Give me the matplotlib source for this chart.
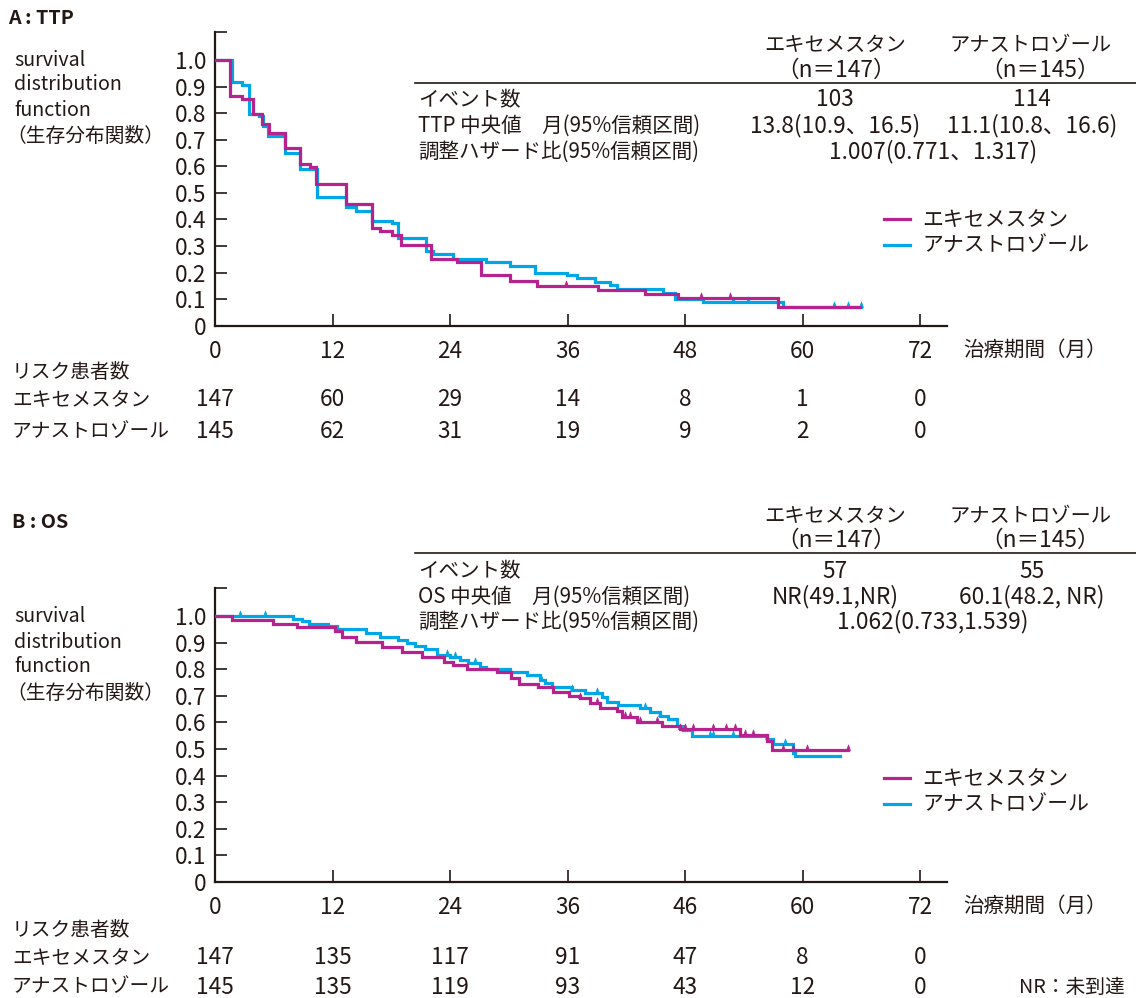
import matplotlib
matplotlib.use('Agg')
import matplotlib.pyplot as plt
from matplotlib.path import Path
from matplotlib.lines import Line2D
import matplotlib.transforms as mtransforms
import numpy as np

plt.rcParams['font.family'] = ['Noto Sans CJK JP', 'DejaVu Sans']

# ---------------- data ----------------
# Panel A : TTP  (months, survival)
ttp_exe_t = [0, 1.53, 2.73, 3.91, 4.77, 5.55, 7.15, 8.68, 9.70, 10.32, 13.35, 16.07, 16.80, 18.08, 19.03,
             22.06, 24.69, 27.19, 30.13, 32.92, 39.07, 43.92, 47.32, 57.46, 65.88]
ttp_exe_s = [1.0, 0.865, 0.855, 0.795, 0.758, 0.727, 0.667, 0.608, 0.598, 0.533, 0.457, 0.366, 0.357, 0.341, 0.303,
             0.252, 0.239, 0.189, 0.168, 0.149, 0.134, 0.119, 0.105, 0.070, 0.070]
ttp_exe_cens = [35.83, 49.61, 52.60]

ttp_ana_t = [0, 1.71, 2.73, 3.50, 4.52, 4.93, 5.44, 7.15, 8.68, 10.45, 13.35, 14.43, 16.01, 18.05, 18.69,
             21.58, 22.22, 24.34, 27.68, 30.13, 32.64, 35.90, 36.93, 38.82, 40.35, 41.03, 45.79, 46.99, 49.88,
             58.05, 65.99]
ttp_ana_s = [1.0, 0.917, 0.905, 0.798, 0.790, 0.751, 0.713, 0.650, 0.589, 0.483, 0.448, 0.432, 0.395, 0.385, 0.331,
             0.283, 0.270, 0.251, 0.238, 0.224, 0.200, 0.190, 0.178, 0.164, 0.152, 0.139, 0.124, 0.102, 0.089,
             0.070, 0.070]
ttp_ana_cens = [52.94, 54.47, 63.26, 64.69, 65.99]

# Panel B : OS
os_exe_t = [0, 1.71, 5.96, 8.35, 12.26, 12.94, 14.37, 17.03, 19.07, 21.09, 23.39, 24.31, 25.71, 28.77, 30.18,
            31.03, 32.94, 34.56, 36.16, 37.28, 38.30, 39.33, 41.03, 41.54, 43.07, 45.63, 47.50, 53.63, 56.35,
            56.86, 64.69]
os_exe_s = [1.0, 0.985, 0.970, 0.958, 0.943, 0.922, 0.903, 0.885, 0.866, 0.845, 0.828, 0.814, 0.800, 0.788, 0.767,
            0.745, 0.732, 0.714, 0.699, 0.690, 0.672, 0.655, 0.642, 0.622, 0.602, 0.588, 0.576, 0.552, 0.530,
            0.497, 0.497]
os_exe_cens = [37.28, 38.99, 41.88, 42.39, 43.41, 45.12, 47.50, 48.01, 48.86, 50.90, 52.17, 53.12, 54.14,
               54.99, 57.99, 59.07, 60.44, 64.69]

os_ana_t = [0, 7.94, 8.89, 9.63, 11.57, 12.43, 15.42, 16.85, 18.72, 19.58, 20.43, 21.45, 22.68, 24.00, 25.03,
            25.87, 27.07, 27.68, 30.13, 31.84, 33.20, 33.71, 34.39, 36.44, 37.79, 39.50, 40.01, 41.20, 43.41,
            44.43, 45.45, 46.30, 47.16, 47.84, 48.69, 56.35, 57.03, 59.07, 59.24, 63.84]
os_ana_s = [1.0, 0.990, 0.981, 0.971, 0.964, 0.950, 0.937, 0.922, 0.910, 0.898, 0.887, 0.876, 0.855, 0.845, 0.834,
            0.822, 0.810, 0.800, 0.790, 0.778, 0.758, 0.748, 0.733, 0.723, 0.709, 0.697, 0.676, 0.667, 0.655,
            0.640, 0.624, 0.612, 0.588, 0.570, 0.549, 0.539, 0.518, 0.485, 0.473, 0.473]
os_ana_cens = [2.55, 5.11, 23.67, 24.51, 26.56, 33.30, 36.44, 39.05, 43.92, 45.45, 50.56, 50.90, 52.94,
               56.35, 58.22]

# ticks and risk tables
x_ticks = [0, 12, 24, 36, 48, 60, 72]
ttp_xtick_labels = ['0', '12', '24', '36', '48', '60', '72']
os_xtick_labels = ['0', '12', '24', '36', '46', '60', '72']
y_ticks = [0, 0.1, 0.2, 0.3, 0.4, 0.5, 0.6, 0.7, 0.8, 0.9, 1.0]
y_tick_labels = ['0', '0.1', '0.2', '0.3', '0.4', '0.5', '0.6', '0.7', '0.8', '0.9', '1.0']

ttp_risk_exe = [147, 60, 29, 14, 8, 1, 0]
ttp_risk_ana = [145, 62, 31, 19, 9, 2, 0]
os_risk_exe = [147, 135, 117, 91, 47, 8, 0]
os_risk_ana = [145, 135, 119, 93, 43, 12, 0]

arm_names = ['エキセメスタン', 'アナストロゾール']
arm_n = ['（n＝147）', '（n＝145）']

ttp_table = [('イベント数', '103', '114'),
             ('TTP 中央値　月(95%信頼区間)', '13.8(10.9、16.5)', '11.1(10.8、16.6)')]
ttp_hr = ('調整ハザード比(95%信頼区間)', '1.007(0.771、1.317)')
os_table = [('イベント数', '57', '55'),
            ('OS 中央値　月(95%信頼区間)', 'NR(49.1,NR)', '60.1(48.2, NR)')]
os_hr = ('調整ハザード比(95%信頼区間)', '1.062(0.733,1.539)')

# ---------------- style ----------------
W, H = 1136, 998
C_EXE = '#B6228E'
C_ANA = '#00A7E6'
TXT = '#231815'
FS = 14.2      # Japanese text
FSN = 16.3     # numbers

fig = plt.figure(figsize=(W / 100, H / 100), dpi=100)


def fx(x):
    return x / W


def fy(y):
    return 1 - y / H


def T(x, y, s, ha='left', **kw):
    kw.setdefault('fontsize', FS)
    kw.setdefault('color', TXT)
    fig.text(fx(x), fy(y), s, ha=ha, va='center', **kw)


cens_path = Path([(-0.35, 0.0), (0.0, 1.0), (0.35, 0.0), (-0.35, 0.0)],
                 [Path.MOVETO, Path.LINETO, Path.LINETO, Path.CLOSEPOLY])

AX_L, AX_R = 215, 947
PX_PER_MONTH = (920 - 215) / 72.0


def make_axes(top_px, zero_px, one_px, xlabels):
    scale = zero_px - one_px
    ytop = (zero_px - top_px) / scale
    ax = fig.add_axes([fx(AX_L), fy(zero_px), (AX_R - AX_L) / W, (zero_px - top_px) / H])
    ax.set_xlim(0, (AX_R - AX_L) / PX_PER_MONTH)
    ax.set_ylim(0, ytop)
    for sp in ['top', 'right']:
        ax.spines[sp].set_visible(False)
    for sp in ['left', 'bottom']:
        ax.spines[sp].set_linewidth(1.6)
        ax.spines[sp].set_color(TXT)
    ax.set_xticks(x_ticks)
    ax.set_xticklabels(xlabels)
    ax.set_yticks(y_ticks + [ytop])
    ax.set_yticklabels(y_tick_labels + [''])
    ax.tick_params(axis='both', direction='in', length=8.5, width=1.2, color=TXT,
                   labelsize=FSN, labelcolor=TXT)
    ax.tick_params(axis='x', pad=10)
    ax.tick_params(axis='y', pad=6)
    ax.patch.set_alpha(0)
    return ax


def draw_km(ax, t, s, cens, color):
    ax.step(t, s, where='post', color=color, lw=2.3, solid_joinstyle='miter', zorder=3)
    t_arr = np.asarray(t)
    s_arr = np.asarray(s)
    idx = np.searchsorted(t_arr, cens, side='right') - 1
    ax.plot(cens, s_arr[idx], linestyle='none', marker=cens_path, markersize=8,
            color=color, markeredgewidth=0.5, zorder=3)


def panel(ax, exe_t, exe_s, exe_c, ana_t, ana_s, ana_c, leg_top):
    draw_km(ax, ana_t, ana_s, ana_c, C_ANA)
    draw_km(ax, exe_t, exe_s, exe_c, C_EXE)
    handles = [Line2D([], [], color=C_EXE, lw=2.3), Line2D([], [], color=C_ANA, lw=2.3)]
    ax.legend(handles, arm_names, loc='upper left', bbox_to_anchor=(fx(884), fy(leg_top)),
              bbox_transform=fig.transFigure, frameon=False, fontsize=FS + 0.8,
              handlelength=1.25, handletextpad=0.6, labelspacing=0.2,
              borderpad=0, borderaxespad=0, labelcolor=TXT)


def risk_rows(ax, y_head, y1, y2, r1, r2):
    trans = mtransforms.blended_transform_factory(ax.transData, fig.transFigure)
    T(12, y_head, 'リスク患者数')
    T(12, y1, arm_names[0])
    T(12, y2, arm_names[1])
    for m, a, b in zip(x_ticks, r1, r2):
        ax.text(m, fy(y1), str(a), transform=trans, ha='center', va='center', fontsize=FSN, color=TXT)
        ax.text(m, fy(y2), str(b), transform=trans, ha='center', va='center', fontsize=FSN, color=TXT)


def header_table(y_h1, y_h2, y_line, y_rows, rows, hr):
    T(835, y_h1, arm_names[0], ha='center', fontsize=FS + 0.4)
    T(1030, y_h1, arm_names[1], ha='center', fontsize=FS + 0.4)
    T(836, y_h2, arm_n[0], ha='center', fontsize=FSN)
    T(1040, y_h2, arm_n[1], ha='center', fontsize=FSN)
    fig.add_artist(Line2D([fx(415), fx(1136)], [fy(y_line), fy(y_line)], transform=fig.transFigure,
                          color=TXT, lw=1.2))
    for (lab, v1, v2), yy in zip(rows, y_rows[:2]):
        T(418, yy, lab, fontsize=FS + 0.6)
        T(835, yy, v1, ha='center', fontsize=FSN)
        T(1032, yy, v2, ha='center', fontsize=FSN)
    T(418, y_rows[2], hr[0], fontsize=FS + 0.6)
    T(933, y_rows[2], hr[1], ha='center', fontsize=FSN)


def ylabel_block(y0):
    T(14, y0, 'survival')
    T(14, y0 + 25, 'distribution')
    T(14, y0 + 50, 'function')
    T(6, y0 + 76, '（生存分布関数）')


# ---------------- Panel A ----------------
axA = make_axes(32, 325.7, 60, ttp_xtick_labels)
panel(axA, ttp_exe_t, ttp_exe_s, ttp_exe_cens, ttp_ana_t, ttp_ana_s, ttp_ana_cens, 209)
T(8, 18, 'A : TTP', fontweight='bold')
ylabel_block(60)
header_table(45, 70, 83, [100, 126, 152], ttp_table, ttp_hr)
T(963, 350, '治療期間（月）', fontsize=FS + 0.6)
risk_rows(axA, 373, 400, 432, ttp_risk_exe, ttp_risk_ana)

# ---------------- Panel B ----------------
axB = make_axes(588, 882, 616, os_xtick_labels)
panel(axB, os_exe_t, os_exe_s, os_exe_cens, os_ana_t, os_ana_s, os_ana_cens, 768)
T(12, 523, 'B : OS', fontweight='bold')
ylabel_block(617)
header_table(516, 540, 553, [571, 597, 622], os_table, os_hr)
T(963, 906, '治療期間（月）', fontsize=FS + 0.6)
risk_rows(axB, 930, 958, 987, os_risk_exe, os_risk_ana)
T(1125, 987, 'NR：未到達', ha='right')

fig.savefig('out.png', dpi=100)
